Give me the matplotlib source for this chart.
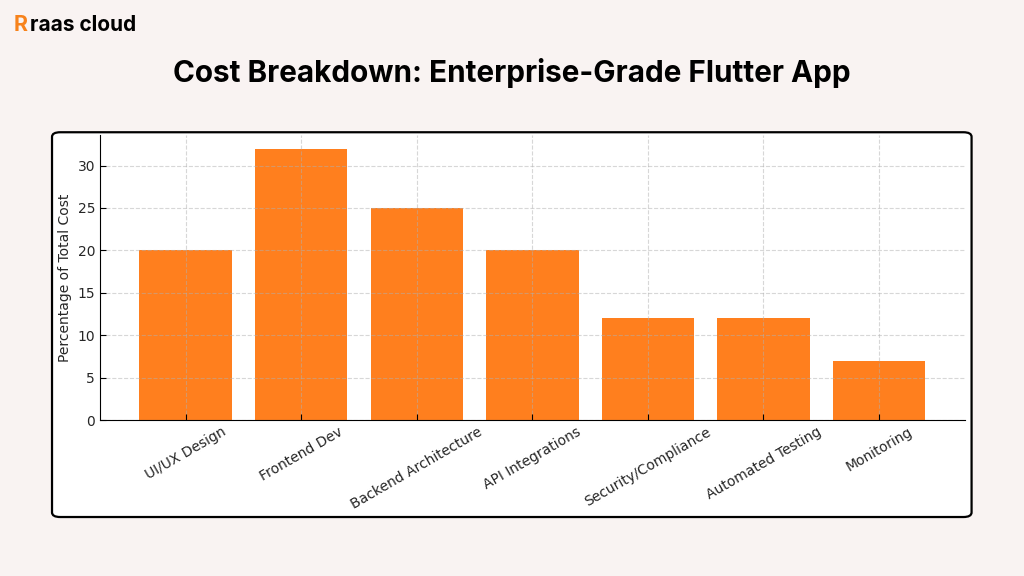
import numpy as np
import matplotlib
matplotlib.use("Agg")
from matplotlib import pyplot as plt
from matplotlib.patches import FancyBboxPatch

# data
categories = ["UI/UX Design", "Frontend Dev", "Backend Architecture", "API Integrations",
              "Security/Compliance", "Automated Testing", "Monitoring"]
percentages = [20, 32, 25, 20, 12, 12, 7]
yticks = [0, 5, 10, 15, 20, 25, 30]

bg = "#f9f3f2"
bar_color = "#ff7f1e"


def main():
    fig = plt.figure(figsize=(10.24, 5.76), dpi=100)
    fig.patch.set_facecolor(bg)

    # white rounded panel behind the chart
    panel = FancyBboxPatch((0.0508, 0.1024), 0.898, 0.668,
                           boxstyle="round,pad=0,rounding_size=0.008",
                           transform=fig.transFigure, facecolor="white",
                           edgecolor="black", linewidth=1.6, zorder=-1)
    fig.patches.append(panel)

    # logo + title
    fig.text(0.013, 0.956, "R", fontsize=15.4, fontweight="bold", color="#f7821b",
             family="Inter", va="center")
    fig.text(0.029, 0.956, "raas cloud", fontsize=15.0, fontweight="bold", color="black",
             family="Inter", va="center")
    fig.text(0.5, 0.873, "Cost Breakdown: Enterprise-Grade Flutter App", fontsize=21.4,
             fontweight="bold", family="Inter", ha="center", va="center")

    ax = fig.add_axes([0.0977, 0.2708, 0.8443, 0.4948])
    ax.set_zorder(1)
    x = np.arange(len(categories))
    ax.bar(x, percentages, width=0.8, color=bar_color)
    ax.set_xticks(x)
    ax.set_xticklabels(categories, rotation=30, ha="center", fontsize=10, color="#262626")
    ax.set_yticks(yticks)
    ax.tick_params(axis="y", labelsize=10, labelcolor="#262626")
    ax.tick_params(direction="in", length=4)
    ax.set_ylabel("Percentage of Total Cost", fontsize=10, color="#262626")
    ax.grid(True, linestyle="--", color="#b0b0b0", alpha=0.5, linewidth=0.8)
    ax.spines["top"].set_visible(False)
    ax.spines["right"].set_visible(False)
    ax.set_facecolor("white")

    fig.savefig("out.png", dpi=100, facecolor=bg)


if __name__ == "__main__":
    main()
